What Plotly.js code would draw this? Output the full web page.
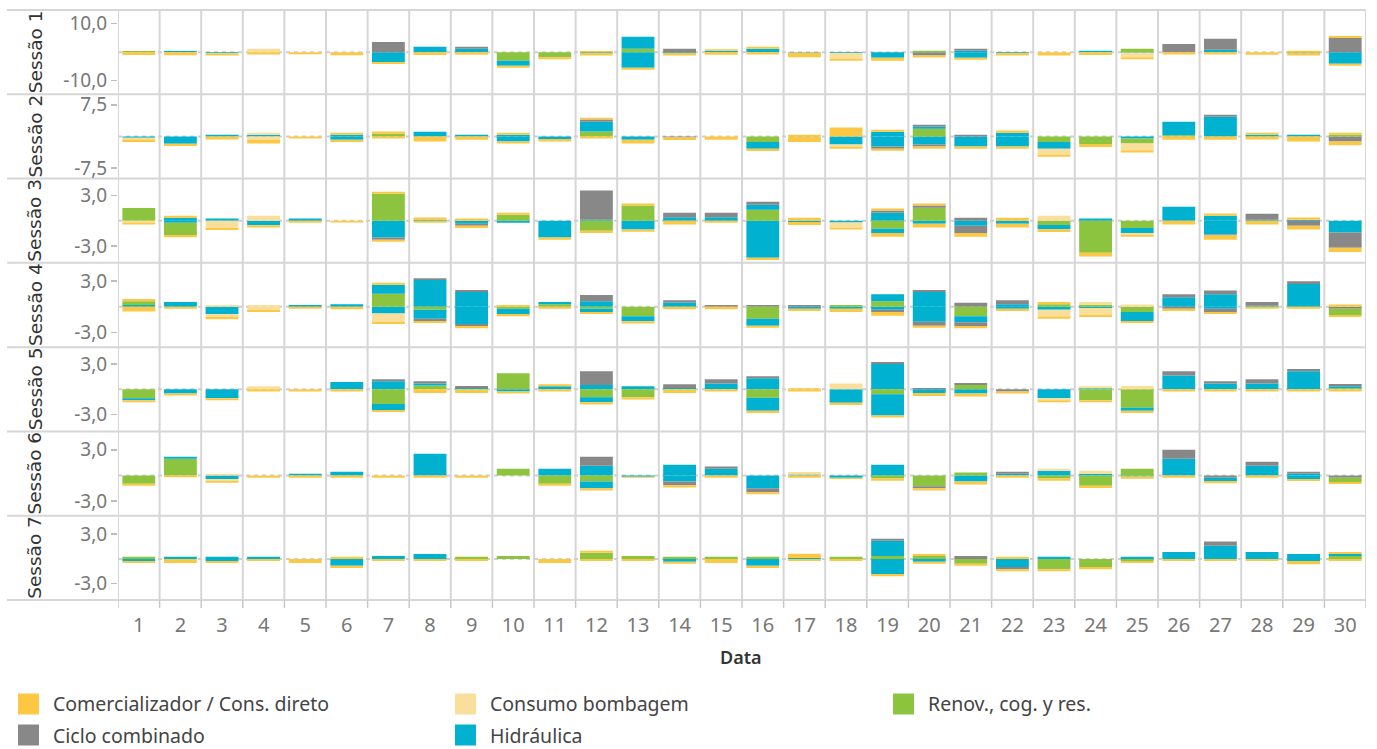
<!DOCTYPE html>
<html><head><meta charset="utf-8">
<script src="https://cdn.plot.ly/plotly-3.0.1.min.js"></script>
<style>html,body{margin:0;padding:0;background:#fff;}#chart{width:1377px;height:749px;}</style>
</head><body><div id="chart"></div>
<script>
const days = [1,2,3,4,5,6,7,8,9,10,11,12,13,14,15,16,17,18,19,20,21,22,23,24,25,26,27,28,29,30];
const sessionNames = ['Sessão 1','Sessão 2','Sessão 3','Sessão 4','Sessão 5','Sessão 6','Sessão 7'];
const seriesNames = ['Comercializador / Cons. direto','Consumo bombagem','Renov., cog. y res.','Ciclo combinado','Hidráulica'];
const seriesColors = ['#FCC844','#F9DF9B','#8CC43F','#888888','#00B1D0'];
const yTickVals = [[-10,10],[-7.5,7.5],[-3,3],[-3,3],[-3,3],[-3,3],[-3,3]];
const yTickText = [['-10,0','10,0'],['-7,5','7,5'],['-3,0','3,0'],['-3,0','3,0'],['-3,0','3,0'],['-3,0','3,0'],['-3,0','3,0']];

// Sessão 1
const s1_hid  = [0,0.4,-0.35,0,0,0,-3.5,1.9,1.2,0, 0,-0.3,-5.5,-0.3,0.5,1.2,-0.2,-0.3,-2.0,0, 0.5,-0.3,0,0.5,-0.2,0,0.8,0,-0.2,-4.1];
const s1_cc   = [0,0,0,0,0,0,3.6,0,0.7,0, 0,0,0,1.2,0,0,0,0,0,-1.2, 0.7,0,0,0,0,2.9,3.9,0,0,5.0];
const s1_ren  = [0.4,0,0,0,0,0,0,0,0,-3.0, -1.8,0,1.2,0,0,0,0,0,0,0.5, 0,0,0,0,1.2,0,0,0,0,0];
const s1_hid2 = [0,0,0,0,0,0,0,0,0,-1.8, 0,0,4.2,0,0,0,0,0,0,0, -2.0,0,0,0,0,0,0,0,0,0];
const s1_cc2  = [0,0,0,0,0,0,0,0,0,0, 0,0,0,0,0,0,0,0,0,0, 0,0,0,0,0,0,0,0,0,0];
const s1_bombP= [0,0,0,1.2,0,0,0,0,0,0, 0,0,0,0,0,0,0,0,0,0, 0,0,0,0,0,0,0,0,0,0];
const s1_bombN= [0,0,0,0,0,0,0,0,0,0, 0,0,0,0,0,0,0,-2.0,0,0, 0,0,0,0,-1.6,0,0,0,0,0];
const s1_comP = [0,0,0,0,0,0,0,0,0,0, 0,0.4,0,0,0.5,0.7,0,0,0,0, 0,0,0,0,0,0,0,0,0.5,0.7];
const s1_comN = [-1.0,-1.1,-0.8,-0.8,-0.7,-1.1,-0.7,-1.0,-0.9,-0.7, -0.7,-0.9,-0.7,-0.9,-0.9,-0.8,-1.6,-0.7,-1.0,-0.7, -0.7,-0.9,-1.2,-1.0,-0.7,-0.8,-0.8,-0.9,-1.0,-0.7];
// Sessão 2
const s2_hid  = [-0.3,-1.75,0.4,0.4,0,-0.8,0,1.1,0.4,-1.2, -0.6,0,-0.8,0,0,0,-0.1,-1.9,1.1,-1.9, -2.4,-2.4,0,0,-0.5,0,4.65,0.4,0.4,0];
const s2_cc   = [0,0,0,0,0,0,0,0,0,0, 0,0,0,-0.25,0,0,0,0,0,-0.5, 0.4,0,0,0,0,0,0.5,0,0,-1.2];
const s2_ren  = [0,0,0,0,0,0,0.65,0,0,0, 0,1.2,0,0,0,-1.3,0,0,0,1.8, 0,0,-1.3,-1.8,-1.2,0.3,0,0,0,0.4];
const s2_hid2 = [0,0,0,0,0,0.4,0,0,0,0.4, 0,2.3,0,0,0,-1.65,0,0,-2.4,0.5, 0,0.9,-1.6,0,0,3.2,0,0,0,0];
const s2_cc2  = [0,0,0,0,0,0,0,0,0,0, 0,0.5,0,0,0,0,0,0,-0.5,0.5, 0,0,0,0,0,0,0,0,0,0];
const s2_bombP= [0,0,0,0.5,0,0,0,0,0,0, 0,0,0,0,0,0,0,0,0,0, 0,0,0,0,0,0,0,0,0,0];
const s2_bombN= [-0.4,0,0,-0.7,0,0,0,0,0,0, 0,0,0,0,0,0,0,-0.5,0,0, 0,0,-1.45,0,-1.6,0,0,0,0,0];
const s2_comP = [0,0,0,0,0,0.5,0.5,0,0,0.5, 0,0.45,0,0,0,0,0.4,2.1,0.5,0, 0,0.5,0,0,0,0,0,0.5,0,0.5];
const s2_comN = [-0.6,-0.5,-0.7,-1.0,-0.5,-0.5,-0.5,-1.2,-0.8,-0.5, -0.6,-0.5,-0.9,-0.6,-0.8,-0.5,-1.2,-0.5,-0.5,-0.5, -0.5,-0.5,-0.5,-0.7,-0.5,-0.8,-0.8,-0.7,-1.2,-0.9];
// Sessão 3
const s3_hid  = [0,-0.25,0.25,-0.55,0.25,0,-2.0,0.12,-0.35,-0.25, -2.0,0.12,-1.05,0.4,0.4,-4.4,-0.15,-0.2,0.95,-0.35, -0.6,-0.35,0,0.25,0,1.65,-1.65,0.12,0.12,-1.4];
const s3_cc   = [0,0,0,0,0,0,-0.25,0,-0.25,0, 0,3.45,0,0.55,0.55,0,0,0,0.25,0, 0.35,0,0,0,0,0,-0.1,0.7,-0.6,-1.8];
const s3_ren  = [1.5,-1.45,0,0,0,0,3.2,0,0,0.7, 0,-1.2,1.8,0,0,1.3,0,0,-0.95,1.55, 0,0,-0.5,-3.8,-0.85,0,0,0,0,0];
const s3_hid2 = [0,0.35,0,0,0,0,0,0,0,0, 0,0,0,0,0,0.6,0,0,-0.5,0, 0,0,-0.5,0,-0.6,0,0.6,0,0,0];
const s3_cc2  = [0,0,0,0,0,0,0,0,0,0, 0,0,0,0,0,0.35,0,0,0,0.25, -0.85,0,0,0,0,0,0,0,0,0];
const s3_bombP= [0,0,0,0.6,0,0,0,0,0,0, 0,0,0,0,0,0,0,0,0,0, 0,0,0.6,0,0,0,0,0,0,0];
const s3_bombN= [-0.2,0,-0.85,0,0,0,0,0,0,0, 0,0,0,0,0,0,0,-0.6,0,0, 0,0,0,0,-0.2,0,0,0,0,0];
const s3_comP = [0,0.25,0,0,0,0,0.25,0.25,0.25,0.25, 0,0,0.25,0,0,0,0.35,0,0.25,0.25, 0,0.35,0,0,0,0,0.25,0,0.25,0];
const s3_comN = [-0.25,-0.25,-0.25,-0.25,-0.25,-0.2,-0.25,-0.25,-0.25,0, -0.25,-0.25,-0.25,-0.45,-0.25,-0.25,-0.35,-0.25,-0.45,-0.45, -0.45,-0.45,-0.35,-0.45,-0.25,-0.45,-0.5,-0.45,-0.45,-0.5];
// Sessão 4
const s4_hid  = [0.2,0.55,-0.85,0,0.2,0.3,-0.8,3.1,1.7,0, 0,0.65,0,0.5,0,0,-0.25,-0.25,-0.35,1.7, 0,0.3,-0.35,-0.15,0,1.1,1.45,0.1,2.65,0];
const s4_cc   = [0,0,0,0,0,0,0,0.2,0.25,0, 0,0.7,0,0.25,0.2,0.2,0.2,0,-0.25,0.25, 0.45,0.45,0,0,0,0.35,0.45,0.45,0.3,-0.25];
const s4_ren  = [0.45,0,0,0,0,0,1.5,-0.35,0,-0.25, 0.3,-0.25,-1.1,0,0,-1.4,0,0.2,0.65,0, -1.1,0,0.3,0.2,-0.6,0,0,0,0,-0.7];
const s4_hid2 = [0,0,0,0,0,0,1.05,-1.05,-2.0,-0.6, 0.25,-0.35,-0.6,0,0,-0.8,0,0,0.8,-1.75, -0.7,-0.25,0,0,-1.05,0,-0.25,0,0,0];
const s4_cc2  = [0,0,0,0,0,0,0,-0.25,-0.25,0, 0,0,0,0,0,0,0,0,0,-0.45, -0.45,0,0,0,0,-0.25,-0.35,0,0,0];
const s4_bombP= [0,0,0.2,0.2,0,0,0,0,0,0, 0,0,0,0,0,0,0,0,0,0, 0,0,0,0.35,0.25,0,0,0,0,0];
const s4_bombN= [0,0,-0.35,-0.35,0,0,-0.95,0,0,0, 0,0,0,0,0,0,0,0,0,0, 0,0,-0.8,-0.8,0,0,0,0,0,0];
const s4_comP = [0.25,0,0,0,0,0,0.25,0,0,0.2, 0,0,0,0,0,0,0,0,0,0, 0,0,0.25,0,0,0,0,0,0,0.25];
const s4_comN = [-0.55,-0.25,-0.25,-0.25,-0.25,-0.3,-0.25,-0.25,-0.25,-0.25, -0.25,-0.25,-0.25,-0.3,-0.3,-0.25,-0.25,-0.35,-0.45,-0.25, -0.25,-0.25,-0.25,-0.25,-0.25,-0.25,-0.25,-0.25,-0.25,-0.25];
// Sessão 5
const s5_hid  = [0,-0.5,-1.05,0,0,0.85,0.95,0,0.15,-0.25, 0.35,0.5,0.35,0.15,0.7,1.3,0,-1.6,3.0,-0.45, -0.5,0,-1.05,0.12,0,1.65,0.7,0.7,2.15,0];
const s5_cc   = [0,0,0,0,0,0,0.25,0,0.25,0, 0,1.65,0,0.45,0.5,0.25,0,0,0.25,0.15, 0,-0.25,0,0,0,0.5,0.25,0.5,0.25,0];
const s5_ren  = [-1.05,0,0,0,0,0,-1.75,0.45,0,1.9, 0,-0.95,-0.95,0,0,-1.0,0,0,-0.6,0, 0.5,0,0,-1.3,-2.2,0,0,0,0,0.12];
const s5_hid2 = [-0.25,0,0,0,0,0,-0.7,0.25,0,0, 0,-0.6,0,0,0,-1.55,0,0,-2.5,0, 0,0,0,0,-0.35,0,0,0,0,0.25];
const s5_cc2  = [0,0,0,0,0,0,0,0.25,0,0, 0,0,0,0,0,0,0,0,0,0, 0.25,0,0,0,0,0,0,0,0,0.25];
const s5_bombP= [0,0,0,0.35,0,0,0,0,0,0, 0,0,0,0,0,0,0,0.7,0,0, 0,0,0,0.25,0.4,0,0,0,0,0];
const s5_bombN= [0,0,0,0,0,0,0,0,0,0, 0,0,0,0,0,0,0,0,0,0, 0,0,-0.25,0,0,0,0,0,0,0];
const s5_comP = [0,0,0,0,0,0,0,0,0,0, 0.25,0,0,0,0,0,0.12,0,0,0, 0,0,0,0,0,0,0,0,0,0];
const s5_comN = [-0.25,-0.25,-0.25,-0.25,-0.25,-0.25,-0.25,-0.45,-0.45,-0.25, -0.25,-0.25,-0.25,-0.45,-0.25,-0.25,-0.25,-0.25,-0.25,-0.35, -0.35,-0.25,-0.25,-0.25,-0.25,-0.25,-0.25,-0.25,-0.25,-0.25];
// Sessão 6
const s6_hid  = [0,0,-0.4,0,0.2,0.45,0,2.55,0,0, 0.8,1.15,-0.15,1.25,0.8,-1.5,0.12,-0.25,1.25,0, -0.7,0.2,0.55,0.2,-0.12,1.95,0,1.15,0.2,0];
const s6_cc   = [0,0,0,0,0,0,0,0,0,0, 0,1.05,0,0,0.25,-0.45,0,0,0,0, 0,0.25,0,0,0,1.05,-0.25,0.45,0.25,-0.25];
const s6_ren  = [-0.95,1.95,0,0,0,0,0,0,0,0.8, -0.95,-0.7,0,0,0,0,0,0,-0.35,-1.25, 0.35,0,-0.35,-1.2,0.8,0,0,0,0,-0.5];
const s6_hid2 = [0,0.25,0,0,0,0,0,0,0,0, 0,-0.8,0,-0.7,0,0,0,0,0,0, 0,0,0,0,0,0,-0.4,0,-0.4,0];
const s6_cc2  = [0,0,0,0,0,0,0,0,0,0, 0,0,0,-0.45,0,0,0,0,0,-0.25, 0,0,0,0,0,0,0,0,0,0];
const s6_bombP= [0,0,0.2,0,0,0,0,0,0,0, 0,0,0,0,0,0,0.3,0,0,0, 0,0,0.25,0.35,0,0,0,0,0,0];
const s6_bombN= [0,0,-0.2,0,0,0,0,0,0,0, 0,0,0,0,0,0,0,0,0,0, 0,0,0,0,0,0,0,0,0,0];
const s6_comP = [0,0,0,0,0,0,0,0,0,0, 0,0,0,0,0,0,0,0,0,0, 0,0,0,0,0,0,0,0,0,0];
const s6_comN = [-0.25,-0.2,-0.25,-0.25,-0.25,-0.25,-0.25,-0.25,-0.25,0, -0.25,-0.25,-0.1,-0.25,-0.25,-0.25,-0.25,-0.15,-0.25,-0.25, -0.35,-0.25,-0.25,-0.25,-0.25,-0.25,-0.25,-0.25,-0.25,-0.25];
// Sessão 7
const s7_hid  = [-0.25,0.25,-0.25,0.25,0,-0.85,0.35,0.6,0,0, 0,0,0,-0.35,0,-0.85,0.12,0,-1.85,-0.35, 0,-1.0,0.25,0,0.25,0.85,1.6,0.85,0.6,0];
const s7_cc   = [0,0,0,0,0,0,0,0,0,0, 0,0,0,0,0,0,0,0,0,0, 0.35,-0.25,0,0,0,0,0.5,0,0,0];
const s7_ren  = [0.25,0,0,0,0,0,0,0,0.25,0.35, 0,0.75,0.35,0.25,0.25,0.25,0,0.25,0.35,0.35, -0.6,0,-1.25,-1.0,-0.25,0,0,0,0,0.35];
const s7_hid2 = [0,0,0.25,0,0,0,0,0,0,0, 0,0,0,0,0,0,0,0,1.85,0, 0,0,0,0,0,0,0,0,-0.25,0.25];
const s7_cc2  = [0,0,0,0,0,0,0,0,0,0, 0,0,0,0,0,0,0,0,0.25,0, 0,0,0,0,0,0,0,0,0,0];
const s7_bombP= [0,0,0,0,0,0,0,0,0,0, 0,0,0,0,0,0,0,0,0,0, 0,0,0,0,0,0,0,0,0,0];
const s7_bombN= [0,0,0,0,0,0,0,0,0,0, 0,0,0,0,0,0,0,0,0,0, 0,0,0,0,0,0,0,0,0,0];
const s7_comP = [0,0,0,0,0,0.25,0,0,0,0, 0,0.25,0,0,0,0,0.5,0,0,0.25, 0,0.25,0,0,0,0,0,0,0,0.25];
const s7_comN = [-0.25,-0.5,-0.25,-0.25,-0.5,-0.25,-0.25,-0.25,-0.25,0, -0.5,-0.25,-0.25,-0.25,-0.5,-0.25,-0.25,-0.25,-0.25,-0.25, -0.25,-0.25,-0.25,-0.25,-0.25,-0.25,-0.25,-0.25,-0.4,-0.25];

const sessionLayers = [
  [s1_hid,s1_cc,s1_ren,s1_hid2,s1_cc2,s1_bombP,s1_bombN,s1_comP,s1_comN],
  [s2_hid,s2_cc,s2_ren,s2_hid2,s2_cc2,s2_bombP,s2_bombN,s2_comP,s2_comN],
  [s3_hid,s3_cc,s3_ren,s3_hid2,s3_cc2,s3_bombP,s3_bombN,s3_comP,s3_comN],
  [s4_hid,s4_cc,s4_ren,s4_hid2,s4_cc2,s4_bombP,s4_bombN,s4_comP,s4_comN],
  [s5_hid,s5_cc,s5_ren,s5_hid2,s5_cc2,s5_bombP,s5_bombN,s5_comP,s5_comN],
  [s6_hid,s6_cc,s6_ren,s6_hid2,s6_cc2,s6_bombP,s6_bombN,s6_comP,s6_comN],
  [s7_hid,s7_cc,s7_ren,s7_hid2,s7_cc2,s7_bombP,s7_bombN,s7_comP,s7_comN]
];
// which series each stacking layer belongs to (index into seriesNames)
const layerSeries = [4,3,2,4,3,1,1,0,0];
const yRanges = [[-14.8,14.8],[-10,10],[-5,5],[-4.7,5.1],[-5,5],[-4.7,5.15],[-5,5.25]];

// ---- geometry (pixels) ----
const W = 1377, H = 749, ML = 118, MR = 11, MT = 10, MB = 149;
const PW = W - ML - MR, PH = H - MT - MB;
const px = v => (v - ML) / PW;
const py = v => (H - MB - v) / PH;
const nS = sessionNames.length;
const FONT = 'Noto Sans, sans-serif';

const traces = [];
sessionLayers.forEach((layers, si) => {
  const ya = si === 0 ? 'y' : 'y' + (si + 1);
  layers.forEach((vals, li) => {
    traces.push({
      type: 'bar', x: days, y: vals, xaxis: 'x', yaxis: ya,
      name: seriesNames[layerSeries[li]], showlegend: false,
      marker: {color: seriesColors[layerSeries[li]], line: {width: 0}},
      hoverinfo: 'skip'
    });
  });
});

const layout = {
  width: W, height: H, margin: {l: ML, r: MR, t: MT, b: MB},
  paper_bgcolor: '#fff', plot_bgcolor: 'rgba(0,0,0,0)',
  barmode: 'relative', bargap: 0.21, showlegend: false,
  font: {family: FONT, color: '#666'},
  xaxis: {
    range: [0.5, 30.5], tickvals: days, ticktext: days.map(String),
    showgrid: false, zeroline: false, showline: false,
    ticks: 'outside', ticklen: 7, tickcolor: 'rgba(0,0,0,0)',
    tickfont: {size: 20, color: '#777'}, anchor: 'y7', fixedrange: true
  },
  shapes: [], annotations: []
};

for (let si = 0; si < nS; si++) {
  const key = si === 0 ? 'yaxis' : 'yaxis' + (si + 1);
  layout[key] = {
    domain: [(nS - 1 - si) / nS, (nS - si) / nS], anchor: 'x',
    range: yRanges[si], tickvals: yTickVals[si], ticktext: yTickText[si],
    showgrid: false, zeroline: false, showline: false,
    ticks: 'outside', ticklen: 6, tickcolor: '#bdbdbd', tickwidth: 1.5,
    tickfont: {size: 19, color: '#777'}, fixedrange: true
  };
  const yref = si === 0 ? 'y' : 'y' + (si + 1);
  // dashed zero line
  layout.shapes.push({type: 'line', xref: 'x', yref: yref, x0: 0.5, x1: 30.5, y0: 0, y1: 0,
    line: {color: '#cfcfcf', width: 2, dash: '4px,4px'}, layer: 'below'});
  // session label
  layout.annotations.push({text: sessionNames[si], xref: 'paper', yref: 'paper',
    x: px(35), y: (nS - si - 0.5) / nS, textangle: -90, showarrow: false,
    xanchor: 'center', yanchor: 'middle',
    font: {family: 'DejaVu Sans, sans-serif', size: 18.5, color: '#333'}});
}
// horizontal row separators
for (let k = 0; k <= nS; k++) {
  layout.shapes.push({type: 'line', xref: 'paper', yref: 'paper', x0: px(7), x1: 1, y0: k / nS, y1: k / nS,
    line: {color: '#d6d6d6', width: 2}, layer: 'below'});
}
// column grid lines and tick marks at column boundaries
for (let j = 0; j <= days.length; j++) {
  layout.shapes.push({type: 'line', xref: 'x', yref: 'paper', x0: j + 0.5, x1: j + 0.5, y0: 0, y1: 1,
    line: {color: '#d6d6d6', width: 2}, layer: 'below'});
  layout.shapes.push({type: 'line', xref: 'x', yref: 'paper', x0: j + 0.5, x1: j + 0.5, y0: 0, y1: -8 / PH,
    line: {color: '#c8c8c8', width: 1.5}, layer: 'below'});
}
// x title
layout.annotations.push({text: 'Data', xref: 'paper', yref: 'paper', x: px(741), y: py(657),
  showarrow: false, xanchor: 'center', yanchor: 'middle', font: {size: 18, color: '#333', weight: 600}});

// custom legend (two rows, three columns)
const legendOrder = [0, 1, 2, 3, 4];
const legendPos = [[18, 704], [455, 704], [893, 704], [18, 735], [455, 735]];
legendOrder.forEach((s, i) => {
  const [lx, ly] = legendPos[i];
  layout.shapes.push({type: 'rect', xref: 'paper', yref: 'paper',
    x0: px(lx), x1: px(lx + 21), y0: py(ly - 10.5), y1: py(ly + 10.5),
    fillcolor: seriesColors[s], line: {width: 0}});
  layout.annotations.push({text: seriesNames[s], xref: 'paper', yref: 'paper',
    x: px(lx + 33), y: py(ly), xanchor: 'left', yanchor: 'middle', showarrow: false,
    font: {size: 19.5, color: '#444'}});
});

Plotly.newPlot('chart', traces, layout, {staticPlot: true, displayModeBar: false});
</script></body></html>
